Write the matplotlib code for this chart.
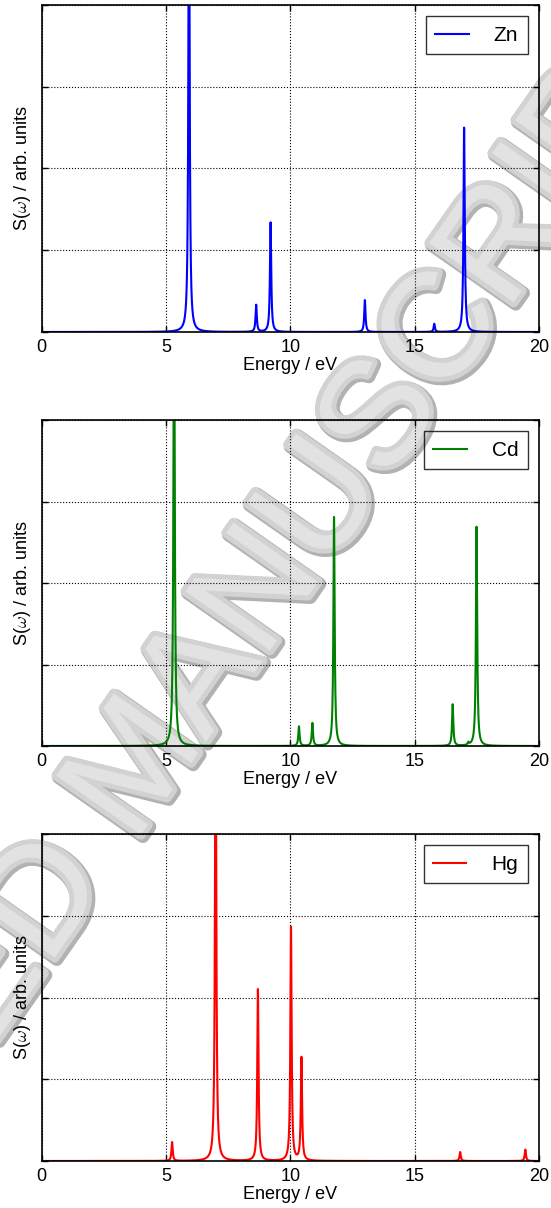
import numpy as np
import matplotlib
matplotlib.use("Agg")
import matplotlib.pyplot as plt
import matplotlib.patheffects as pe

plt.rcParams['font.family'] = ['Liberation Sans', 'DejaVu Sans']
plt.rcParams['mathtext.fontset'] = 'cm'

# peak positions (eV) and heights (arb. units) for each metal
zn_pos = [5.93, 8.63, 9.21, 13.00, 15.79, 16.99]
zn_amp = [6.0, 0.33, 1.34, 0.39, 0.10, 2.50]
cd_pos = [5.33, 10.35, 10.89, 11.76, 16.53, 17.16, 17.49]
cd_amp = [6.0, 0.24, 0.28, 2.81, 0.51, 0.03, 2.69]
hg_pos = [5.25, 7.00, 8.70, 10.03, 10.45, 16.83, 19.45]
hg_amp = [0.23, 6.0, 2.10, 2.86, 1.26, 0.11, 0.14]

labels = ['Zn', 'Cd', 'Hg']
colors = ['#0000ff', '#008000', '#ff0000']
gamma = 0.03  # lorentzian half width (eV)

energy = np.linspace(0, 20, 4001)


def spectrum(pos, amp):
    s = np.zeros_like(energy)
    for p, a in zip(pos, amp):
        s += a * gamma**2 / ((energy - p)**2 + gamma**2)
    return s


fig = plt.figure(figsize=(5.51, 12.08), dpi=100)

# grey stamp behind the panels
fig.text(140 / 551, 1 - 768 / 1208, 'ACCEPTED MANUSCRIPT', rotation=55,
         rotation_mode='anchor', ha='center', va='center', fontsize=108,
         color='#e2e2e2', zorder=-1,
         path_effects=[pe.Stroke(linewidth=9, foreground='#b2b2b2', offset=(1.5, -1.5)),
                       pe.Stroke(linewidth=7, foreground='#d2d2d2'),
                       pe.Normal()])

left, width = 41.5 / 551, 497.5 / 551
panels = [(5, 332), (420, 746), (834, 1161)]
data = [(zn_pos, zn_amp), (cd_pos, cd_amp), (hg_pos, hg_amp)]

for (top, bot), (pos, amp), lab, col in zip(panels, data, labels, colors):
    ax = fig.add_axes([left, 1 - bot / 1208, width, (bot - top) / 1208])
    ax.set_facecolor('none')
    ax.plot(energy, spectrum(pos, amp), color=col, lw=1.5, label=lab)
    ax.set_xlim(0, 20)
    ax.set_ylim(0, 4)
    ax.set_xticks([0, 5, 10, 15, 20])
    ax.set_yticks([0, 1, 2, 3, 4])
    ax.tick_params(direction='in', top=True, right=True, length=4, width=1,
                   labelleft=False, labelsize=13, pad=5)
    ax.grid(True, ls=':', color='k', lw=0.8)
    for sp in ax.spines.values():
        sp.set_linewidth(1.2)
    ax.set_xlabel('Energy / eV', fontsize=13, labelpad=1)
    ax.set_ylabel(r'S($\omega$) / arb. units', fontsize=13, labelpad=6)
    leg = ax.legend(loc='upper right', fancybox=False, edgecolor='k',
                    facecolor='none', fontsize=15, handlelength=1.6,
                    handletextpad=1.2, borderpad=0.45, borderaxespad=0.55)
    leg.get_frame().set_linewidth(1.0)

fig.savefig('out.png', dpi=100)
